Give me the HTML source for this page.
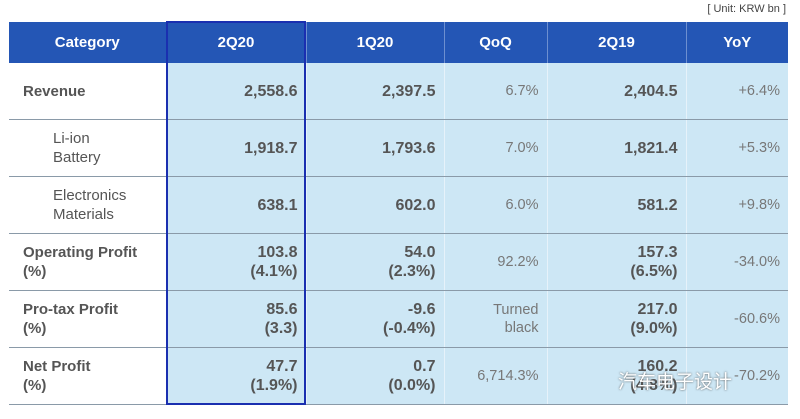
<!DOCTYPE html><html><head><style>
body{margin:0;width:800px;height:419px;background:#fff;font-family:"Liberation Sans",sans-serif;position:relative;overflow:hidden}
.a{position:absolute}
table{position:absolute;left:9px;top:22px;border-collapse:collapse;table-layout:fixed}
td{padding:0 8px;color:#666;font-size:14.5px;border-bottom:1px solid #8a9aa8;height:56px;background:#cde7f5;border-left:1px solid #e6f2fa}
th{background:#2456b5;color:#fff;font-size:15px;height:39px;border-left:1px solid #6d8fd0}
td.c{background:#fff;text-align:left;color:#555;border-left:none;padding-left:14px;font-size:15px}
td.b{font-weight:bold;text-align:right;color:#555;font-size:16px;line-height:19px}
td.r{text-align:right;color:#777}
.ind{padding-left:44px !important;font-weight:normal;line-height:19px}
.bold{font-weight:bold;line-height:19px}
</style></head><body>
<div class="a" style="right:14px;top:3px;font-size:11px;color:#444">[ Unit: KRW bn ]</div>
<table>
<colgroup><col style="width:157px"><col style="width:140px"><col style="width:138px"><col style="width:103px"><col style="width:139px"><col style="width:102px"></colgroup>
<tr><th style="border-left:none">Category</th><th>2Q20</th><th>1Q20</th><th>QoQ</th><th>2Q19</th><th>YoY</th></tr>
<tr><td class="c bold">Revenue</td><td class="b">2,558.6</td><td class="b">2,397.5</td><td class="r">6.7%</td><td class="b">2,404.5</td><td class="r">+6.4%</td></tr>
<tr><td class="c ind">Li-ion<br>Battery</td><td class="b">1,918.7</td><td class="b">1,793.6</td><td class="r">7.0%</td><td class="b">1,821.4</td><td class="r">+5.3%</td></tr>
<tr><td class="c ind">Electronics<br>Materials</td><td class="b">638.1</td><td class="b">602.0</td><td class="r">6.0%</td><td class="b">581.2</td><td class="r">+9.8%</td></tr>
<tr><td class="c bold">Operating Profit<br>(%)</td><td class="b">103.8<br>(4.1%)</td><td class="b">54.0<br>(2.3%)</td><td class="r">92.2%</td><td class="b">157.3<br>(6.5%)</td><td class="r">-34.0%</td></tr>
<tr><td class="c bold">Pro-tax Profit<br>(%)</td><td class="b">85.6<br>(3.3)</td><td class="b">-9.6<br>(-0.4%)</td><td class="r" style="line-height:18px">Turned<br>black</td><td class="b">217.0<br>(9.0%)</td><td class="r">-60.6%</td></tr>
<tr><td class="c bold">Net Profit<br>(%)</td><td class="b">47.7<br>(1.9%)</td><td class="b">0.7<br>(0.0%)</td><td class="r">6,714.3%</td><td class="b">160.2<br>(4.8%)</td><td class="r">-70.2%</td></tr>
</table>
<div class="a" style="left:166px;top:21px;width:136px;height:380px;border:2px solid #1a2fb0"></div>
<div class="a" style="left:618px;top:367px;font-size:19px;color:#fff;text-shadow:0 0 2px #555;font-family:'Liberation Sans','Noto Sans CJK SC',sans-serif">汽车电子设计</div>
</body></html>
